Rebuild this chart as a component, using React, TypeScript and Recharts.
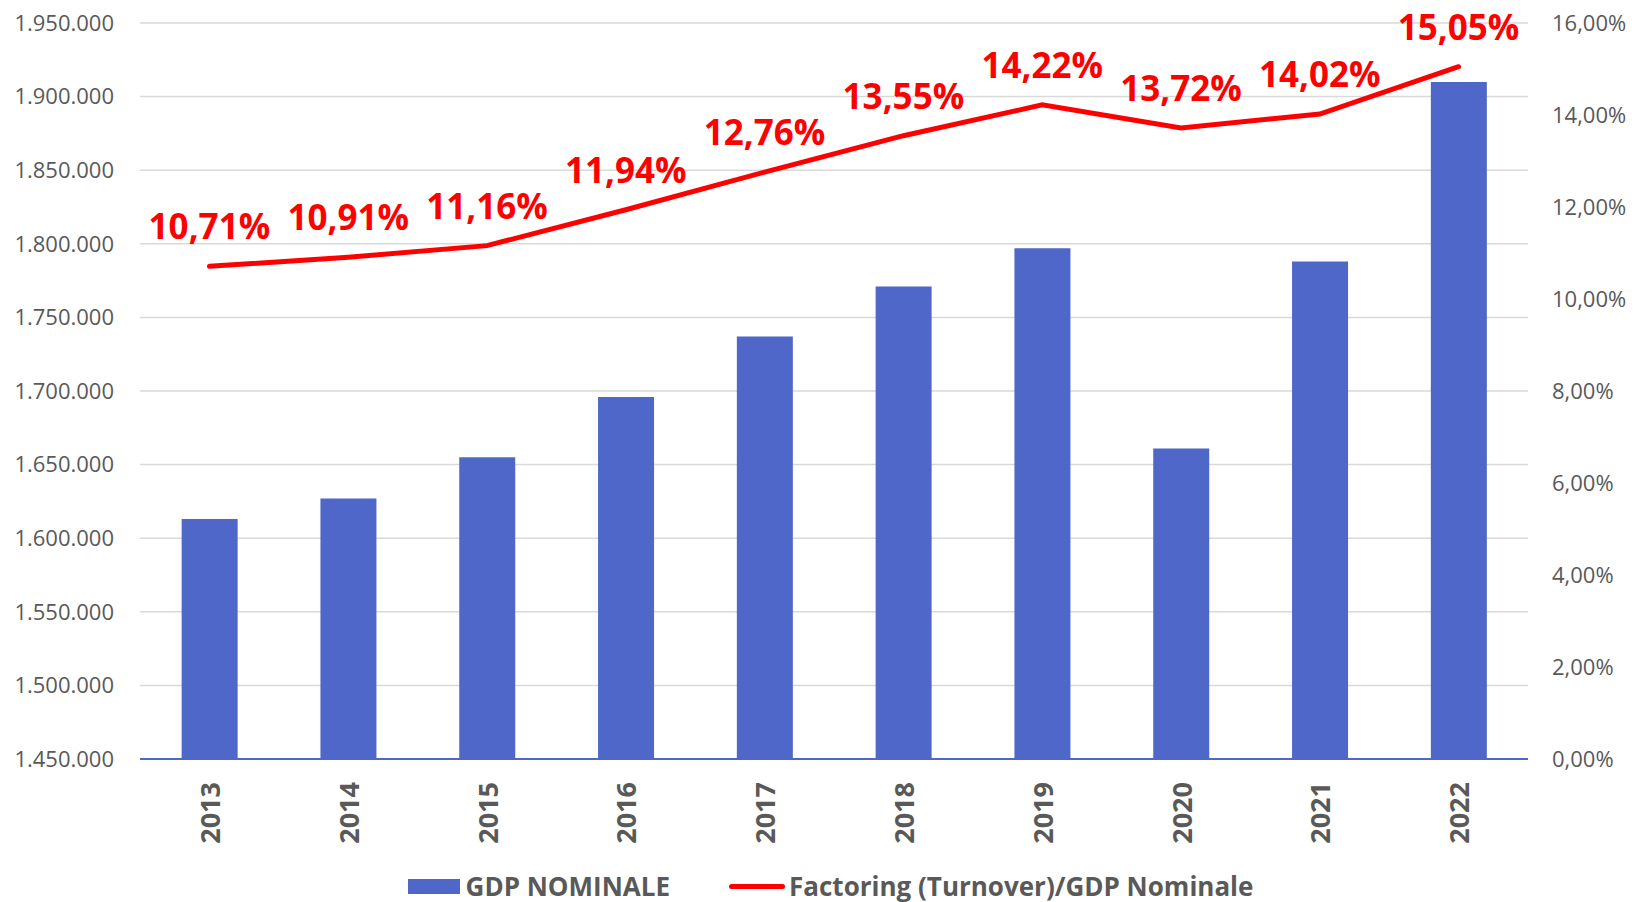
import { ComposedChart, Bar, Line, XAxis, YAxis, CartesianGrid, Legend, LabelList } from "recharts";

const years = ["2013", "2014", "2015", "2016", "2017", "2018", "2019", "2020", "2021", "2022"];
const gdpNominale = [1613000, 1627000, 1655000, 1696000, 1737000, 1771000, 1797000, 1661000, 1788000, 1910000];
const factoringRatio = [10.71, 10.91, 11.16, 11.94, 12.76, 13.55, 14.22, 13.72, 14.02, 15.05];
const leftTicks = [1450000, 1500000, 1550000, 1600000, 1650000, 1700000, 1750000, 1800000, 1850000, 1900000, 1950000];
const rightTicks = [0, 2, 4, 6, 8, 10, 12, 14, 16];

const BLUE = "#4F67C8";
const RED = "#FF0000";
const GREY = "#595959";
const FONT = "'Open Sans', 'Noto Sans', sans-serif";

const data = years.map((year, i) => ({
  year,
  gdp: gdpNominale[i],
  ratio: factoringRatio[i],
}));

const fmtThousands = (v: number) => String(v).replace(/\B(?=(\d{3})+(?!\d))/g, ".");
const fmtPct = (v: number) => v.toFixed(2).replace(".", ",") + "%";

function YearTick({ x, y, payload }: any) {
  const ty = y + 15;
  return (
    <text
      x={x}
      y={ty}
      transform={`rotate(-90, ${x}, ${ty})`}
      textAnchor="end"
      dominantBaseline="central"
      fill={GREY}
      fontSize={27}
      fontWeight={700}
      fontFamily={FONT}
    >
      {payload.value}
    </text>
  );
}

function RatioLabel({ x, y, value }: any) {
  return (
    <text
      x={x}
      y={y - 27}
      textAnchor="middle"
      fill={RED}
      fontSize={35}
      fontWeight={700}
      fontFamily={FONT}
    >
      {fmtPct(value)}
    </text>
  );
}

function ChartLegend() {
  const text = { color: GREY, fontSize: 26, lineHeight: "30px", fontWeight: 700, fontFamily: FONT };
  return (
    <div
      style={{
        display: "flex",
        justifyContent: "center",
        alignItems: "center",
        height: 36,
        boxSizing: "border-box",
        paddingTop: 4,
        paddingLeft: 26,
      }}
    >
      <div style={{ width: 52, height: 15, background: BLUE, marginRight: 6 }} />
      <span style={text}>GDP NOMINALE</span>
      <div style={{ width: 56, height: 5, borderRadius: 3, background: RED, marginLeft: 59, marginRight: 4 }} />
      <span style={text}>Factoring (Turnover)/GDP Nominale</span>
    </div>
  );
}

export default function App() {
  return (
    <div style={{ position: "absolute", left: 0, top: 0, background: "#fff" }}>
      <ComposedChart
        width={1635}
        height={902}
        data={data}
        margin={{ top: 23, right: 0, bottom: 0, left: 0 }}
        barCategoryGap="30%"
      >
        <CartesianGrid yAxisId="left" horizontal vertical={false} stroke="#D9D9D9" strokeWidth={1.5} />
        <XAxis
          dataKey="year"
          height={107}
          interval={0}
          tickLine={false}
          axisLine={{ stroke: BLUE, strokeWidth: 2 }}
          tick={<YearTick />}
        />
        <YAxis
          yAxisId="left"
          orientation="left"
          width={140}
          domain={[1450000, 1950000]}
          ticks={leftTicks}
          interval={0}
          axisLine={false}
          tickLine={false}
          tickSize={0}
          tickMargin={26}
          tickFormatter={fmtThousands}
          tick={{ fill: GREY, fontSize: 22, fontFamily: FONT }}
        />
        <YAxis
          yAxisId="right"
          orientation="right"
          width={107}
          domain={[0, 16]}
          ticks={rightTicks}
          interval={0}
          axisLine={false}
          tickLine={false}
          tickSize={0}
          tickMargin={24}
          tickFormatter={fmtPct}
          tick={{ fill: GREY, fontSize: 22, fontFamily: FONT, textAnchor: "start" }}
        />
        <Bar yAxisId="left" dataKey="gdp" name="GDP NOMINALE" fill={BLUE} isAnimationActive={false} />
        <Line
          yAxisId="right"
          type="linear"
          dataKey="ratio"
          name="Factoring (Turnover)/GDP Nominale"
          stroke={RED}
          strokeWidth={5}
          strokeLinecap="round"
          dot={false}
          activeDot={false}
          isAnimationActive={false}
        >
          <LabelList dataKey="ratio" content={<RatioLabel />} />
        </Line>
        <Legend verticalAlign="bottom" height={36} content={<ChartLegend />} />
      </ComposedChart>
    </div>
  );
}
